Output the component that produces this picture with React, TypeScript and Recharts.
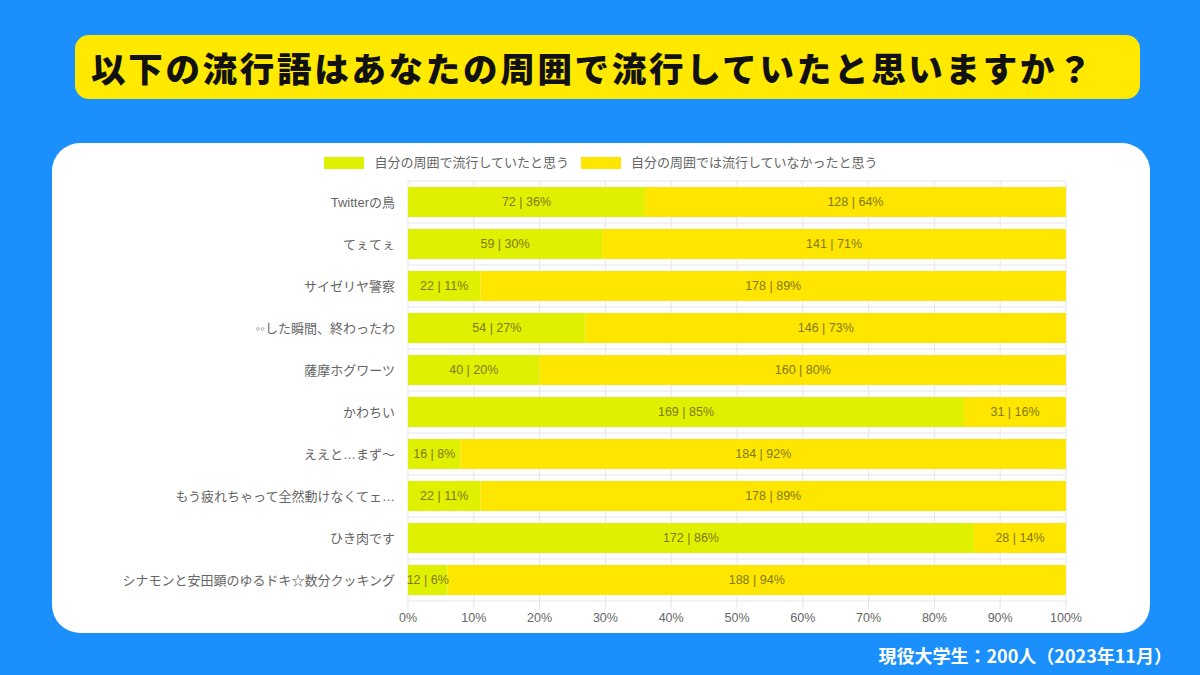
import React from "react";
import {
  BarChart,
  Bar,
  XAxis,
  YAxis,
  CartesianGrid,
  Legend,
  LabelList,
} from "recharts";

const categories = [
  "Twitterの鳥",
  "てぇてぇ",
  "サイゼリヤ警察",
  "◦◦した瞬間、終わったわ",
  "薩摩ホグワーツ",
  "かわちい",
  "ええと…まず〜",
  "もう疲れちゃって全然動けなくてェ…",
  "ひき肉です",
  "シナモンと安田顕のゆるドキ☆数分クッキング",
];

const popular = [72, 59, 22, 54, 40, 169, 16, 22, 172, 12];
const notPopular = [128, 141, 178, 146, 160, 31, 184, 178, 28, 188];

const seriesNames = [
  "自分の周囲で流行していたと思う",
  "自分の周囲では流行していなかったと思う",
];

const xTicks = [0, 10, 20, 30, 40, 50, 60, 70, 80, 90, 100];

const respondents = 200;

const GREEN = "#dff000";
const YELLOW = "#ffe600";
const LABEL = "#7f7914";
const FONT = "'Noto Sans CJK JP', 'Noto Sans', sans-serif";
const CHART_FONT = "'Liberation Sans', 'Noto Sans CJK JP', sans-serif";

const data = categories.map((name, i) => ({
  name,
  yes: (popular[i] / respondents) * 100,
  no: (notPopular[i] / respondents) * 100,
}));

// "count | pct%" centred in the segment, never wrapped
const SegmentLabel = (props: any) => {
  const { x, y, width, height, value } = props;
  const pct = Number(value);
  const count = Math.round((pct * respondents) / 100);
  return (
    <text
      x={x + width / 2}
      y={y + height / 2}
      textAnchor="middle"
      dominantBaseline="central"
      fill={LABEL}
      fontSize={12.5}
      fontFamily={CHART_FONT}
    >
      {`${count} | ${Math.round(pct)}%`}
    </text>
  );
};

const LegendBox = () => (
  <div
    style={{
      display: "flex",
      justifyContent: "center",
      alignItems: "flex-start",
      height: 26,
      paddingLeft: 84,
      fontFamily: CHART_FONT,
      fontSize: 13,
      color: "#666",
      lineHeight: "16px",
    }}
  >
    {seriesNames.map((s, i) => (
      <div key={s} style={{ display: "flex", alignItems: "center", marginRight: i === 0 ? 12 : 0 }}>
        <span
          style={{
            display: "inline-block",
            width: 40,
            height: 12,
            background: i === 0 ? GREEN : YELLOW,
            marginRight: 10,
          }}
        />
        <span>{s}</span>
      </div>
    ))}
  </div>
);

export default function App() {
  return (
    <div
      style={{
        position: "fixed",
        left: 0,
        top: 0,
        width: 1200,
        height: 675,
        background: "#1b8ffb",
        fontFamily: FONT,
        overflow: "hidden",
      }}
    >
      <div
        style={{
          position: "absolute",
          left: 75,
          top: 35,
          width: 1065,
          height: 64,
          background: "#ffe900",
          borderRadius: 14,
          display: "flex",
          alignItems: "center",
          paddingLeft: 16,
          boxSizing: "border-box",
          fontSize: 34.5,
          fontWeight: 900,
          letterSpacing: 2.7,
          color: "#111",
          whiteSpace: "nowrap",
        }}
      >
        以下の流行語はあなたの周囲で流行していたと思いますか？
      </div>

      <div
        style={{
          position: "absolute",
          left: 52,
          top: 143,
          width: 1098,
          height: 490,
          background: "#fff",
          borderRadius: 28,
        }}
      >
        <BarChart
          width={1098}
          height={490}
          data={data}
          layout="vertical"
          margin={{ top: 12, right: 84, bottom: 2, left: 0 }}
          barSize={30}
        >
          <CartesianGrid
            stroke="#e6e6e6"
            horizontalCoordinatesGenerator={({ offset }: any) =>
              categories
                .map((_, i) => offset.top + (i * offset.height) / categories.length)
                .concat(offset.top + offset.height)
            }
          />
          <Legend verticalAlign="top" content={<LegendBox />} />
          <XAxis
            type="number"
            domain={[0, 100]}
            ticks={xTicks}
            tickFormatter={(v) => `${v}%`}
            axisLine={false}
            tickLine={{ stroke: "#e6e6e6" }}
            tickSize={8}
            tickMargin={4}
            tick={{ fill: "#666", fontSize: 12.5, fontFamily: CHART_FONT }}
            height={30}
          />
          <YAxis
            type="category"
            dataKey="name"
            width={356}
            axisLine={false}
            tickLine={false}
            tickSize={0}
            tickMargin={13}
            tick={{ fill: "#666", fontSize: 13, fontFamily: CHART_FONT }}
            interval={0}
          />
          <Bar dataKey="yes" stackId="a" fill={GREEN} isAnimationActive={false}>
            <LabelList dataKey="yes" content={<SegmentLabel />} />
          </Bar>
          <Bar dataKey="no" stackId="a" fill={YELLOW} isAnimationActive={false}>
            <LabelList dataKey="no" content={<SegmentLabel />} />
          </Bar>
        </BarChart>
      </div>

      <div
        style={{
          position: "absolute",
          right: 28,
          top: 642,
          color: "#fff",
          fontWeight: 700,
          fontSize: 18,
          whiteSpace: "nowrap",
        }}
      >
        現役大学生：200人（2023年11月）
      </div>
    </div>
  );
}
